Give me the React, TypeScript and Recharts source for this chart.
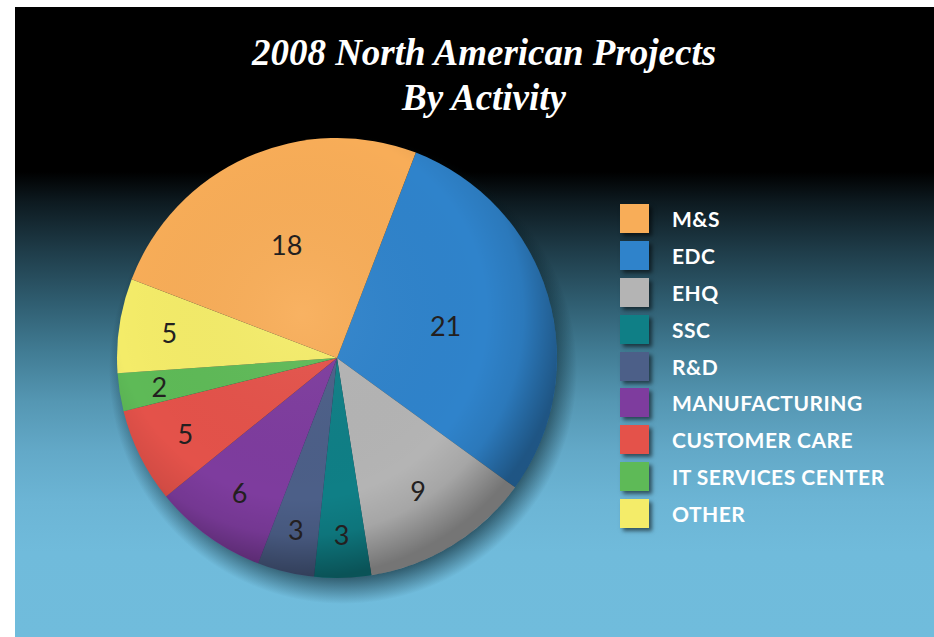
import { PieChart, Pie, Cell, Legend } from 'recharts';

// categories in clockwise drawing order starting at the top (EDC first)
const categories = ['EDC', 'EHQ', 'SSC', 'R&D', 'MANUFACTURING', 'CUSTOMER CARE', 'IT SERVICES CENTER', 'OTHER', 'M&S'];
const projects = [21, 9, 3, 3, 6, 5, 2, 5, 18];
const sliceColors = ['#2f83cb', '#b4b4b4', '#0f7f86', '#4c5f88', '#7e3c9e', '#e4524a', '#5eba57', '#f4ec69', '#f8ad58'];

// legend is listed in a different order than the slices are drawn
const legendOrder = ['M&S', 'EDC', 'EHQ', 'SSC', 'R&D', 'MANUFACTURING', 'CUSTOMER CARE', 'IT SERVICES CENTER', 'OTHER'];

const titleLines = ['2008 North American Projects', 'By Activity'];

const pieData = categories.map((name, i) => ({ name, value: projects[i], color: sliceColors[i] }));
const discData = [{ name: 'disc', value: 1 }];

const CX = 337;
const CY = 358;
const R = 220;

const RADIAN = Math.PI / 180;

const renderLabel = ({ cx, cy, midAngle, outerRadius, percent, value }: any) => {
  // big slices keep their numbers closer to the middle
  const r = outerRadius * (0.85 - 1.15 * percent);
  const x = cx + r * Math.cos(-midAngle * RADIAN);
  const y = cy + r * Math.sin(-midAngle * RADIAN);
  return (
    <text x={x} y={y} fill="#231f20" fontSize={27} fontFamily="Lato, sans-serif"
      textAnchor="middle" dominantBaseline="central">
      {value}
    </text>
  );
};

const LegendBox = () => (
  <div style={{ display: 'flex', flexDirection: 'column' }}>
    {legendOrder.map((name) => {
      const color = sliceColors[categories.indexOf(name)];
      return (
        <div key={name} style={{ display: 'flex', alignItems: 'center', height: 36.9 }}>
          <span style={{
            width: 29, height: 29, background: color, display: 'inline-block',
            boxShadow: '3px 3px 4px rgba(0,0,0,0.55)',
          }} />
          <span style={{
            marginLeft: 23, color: '#fff', fontFamily: 'Lato, sans-serif',
            fontSize: 21, fontWeight: 700, letterSpacing: 0.5,
          }}>{name}</span>
        </div>
      );
    })}
  </div>
);

export default function App() {
  return (
    <div style={{ position: 'absolute', left: 0, top: 0, width: 934, height: 637, background: '#fff' }}>
      <div style={{
        position: 'absolute', left: 15, top: 7, right: 0, bottom: 0,
        background: 'linear-gradient(to bottom, #000 0px, #000 165px, #0d1a20 195px, #1f3d4a 245px, #2f5d70 295px, #417c94 345px, #5597b3 395px, #63a9c8 445px, #6cb5d5 495px, #70bbdb 545px, #70bcdc 630px)',
      }} />
      <div style={{
        position: 'absolute', left: 0, width: 968, top: 30, textAlign: 'center', color: '#fff',
        fontFamily: '"Liberation Serif", serif', fontStyle: 'italic', fontWeight: 700,
        fontSize: 37, lineHeight: '45px',
      }}>
        {titleLines.map((t) => <div key={t}>{t}</div>)}
      </div>
      <div style={{ position: 'absolute', left: 0, top: 0 }}>
        <PieChart width={934} height={637} margin={{ top: 0, right: 0, bottom: 0, left: 0 }}>
          <defs>
            <radialGradient id="pieShadow" cx="50%" cy="50%" r="50%">
              <stop offset="0%" stopColor="#021820" stopOpacity={0.8} />
              <stop offset="86%" stopColor="#021820" stopOpacity={0.7} />
              <stop offset="100%" stopColor="#021820" stopOpacity={0} />
            </radialGradient>
            <radialGradient id="pieShade" cx="42%" cy="40%" r="60%">
              <stop offset="0%" stopColor="#ffffff" stopOpacity={0.06} />
              <stop offset="70%" stopColor="#000000" stopOpacity={0} />
              <stop offset="84%" stopColor="#000000" stopOpacity={0.08} />
              <stop offset="100%" stopColor="#000000" stopOpacity={0.35} />
            </radialGradient>
          </defs>
          <Pie data={discData} dataKey="value" cx={CX + 6} cy={CY + 12} outerRadius={R + 14}
            fill="url(#pieShadow)" stroke="none" isAnimationActive={false} legendType="none" />
          <Pie data={pieData} dataKey="value" nameKey="name" cx={CX} cy={CY} outerRadius={R}
            startAngle={69} endAngle={-291} stroke="none" label={renderLabel} labelLine={false}
            isAnimationActive={false}>
            {pieData.map((d) => <Cell key={d.name} fill={d.color} />)}
          </Pie>
          <Pie data={discData} dataKey="value" cx={CX} cy={CY} outerRadius={R}
            fill="url(#pieShade)" stroke="none" isAnimationActive={false} legendType="none" />
          <Legend layout="vertical" content={() => <LegendBox />}
            wrapperStyle={{ left: 620, top: 200, width: 300 }} />
        </PieChart>
      </div>
    </div>
  );
}
